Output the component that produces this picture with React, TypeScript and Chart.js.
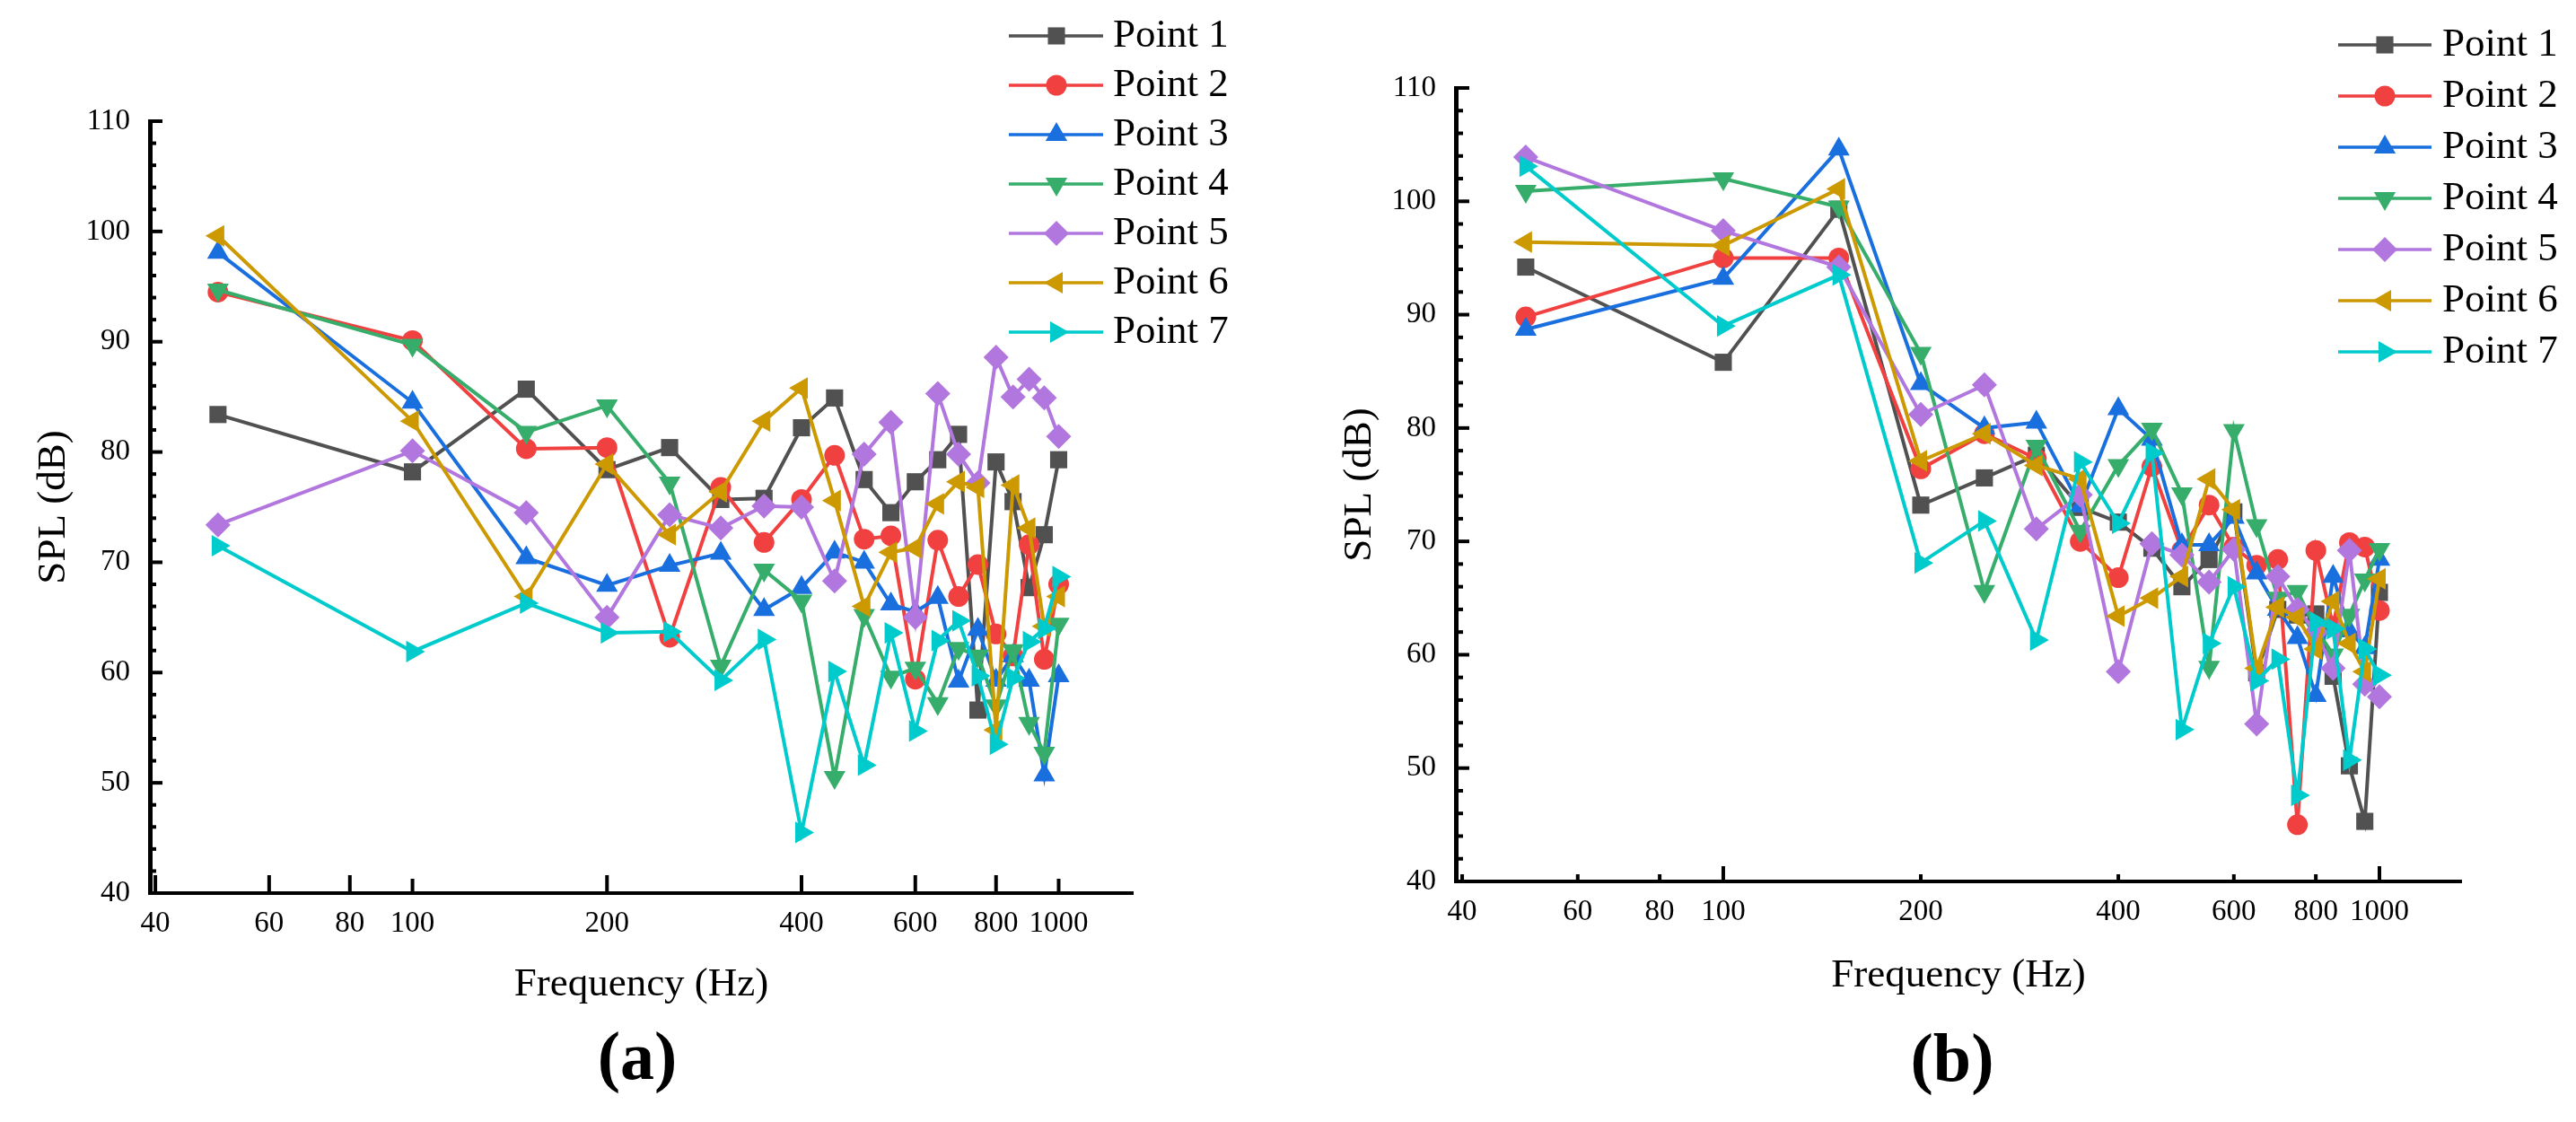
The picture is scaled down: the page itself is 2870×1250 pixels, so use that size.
import React, { useEffect, useRef } from 'react';
import { Chart, registerables } from 'chart.js';
import { drawPoint } from 'chart.js/helpers';

Chart.register(...registerables);

// ---------------- data ----------------
const frequencies = [50, 100, 150, 200, 250, 300, 350, 400, 450, 500, 550, 600, 650, 700, 750, 800, 850, 900, 950, 1000];

const seriesNames = ['Point 1', 'Point 2', 'Point 3', 'Point 4', 'Point 5', 'Point 6', 'Point 7'];
const seriesColors = ['#515151', '#F14040', '#1A6FDF', '#37AD6B', '#B177DE', '#CC9900', '#00CBCC'];
const seriesPointStyles = ['rect', 'circle', 'triangle', 'triangle', 'rectRot', 'triangle', 'triangle'];
const seriesPointRotations = [0, 0, 0, 180, 0, -90, 90];
const seriesPointRadii = [13.5, 11.5, 14, 14, 14, 14, 14];

// Panel (a)
const panelA_point1 = [83.4, 78.2, 85.7, 78.4, 80.4, 75.7, 75.8, 82.2, 84.9, 77.5, 74.5, 77.3, 79.3, 81.6, 56.6, 79.1, 75.5, 67.7, 72.5, 79.3];
const panelA_point2 = [94.5, 90.1, 80.3, 80.4, 63.2, 76.8, 71.8, 75.7, 79.7, 72.1, 72.4, 59.4, 72.0, 66.9, 69.8, 63.5, 61.5, 71.6, 61.2, 68.0];
const panelA_point3 = [98.1, 84.5, 70.4, 67.9, 69.7, 70.8, 65.7, 67.7, 70.9, 70.0, 66.2, 65.5, 66.8, 59.2, 63.9, 59.3, 61.5, 59.3, 50.7, 59.7];
const panelA_point4 = [94.7, 89.7, 81.8, 84.2, 77.2, 60.6, 69.3, 66.5, 50.5, 65.2, 59.6, 60.4, 57.2, 62.2, 61.5, 57.0, 62.0, 55.4, 52.7, 64.4];
const panelA_point5 = [73.4, 80.1, 74.5, 65.0, 74.3, 73.1, 75.1, 75.0, 68.3, 79.8, 82.7, 65.0, 85.3, 79.8, 77.2, 88.6, 85.0, 86.6, 84.9, 81.4];
const panelA_point6 = [99.6, 82.8, 66.9, 78.9, 72.5, 76.4, 82.8, 85.8, 75.6, 66.0, 70.9, 71.3, 75.3, 77.3, 76.8, 54.8, 77.0, 73.1, 64.2, 66.9];
const panelA_point7 = [71.5, 61.9, 66.3, 63.6, 63.7, 59.3, 63.0, 45.5, 60.1, 51.6, 63.6, 54.7, 62.9, 64.7, 59.7, 53.5, 59.5, 62.8, 64.0, 68.7];

// Panel (b)
const panelB_point1 = [94.2, 85.8, 99.3, 73.2, 75.6, 77.6, 73.0, 71.7, 69.4, 66.0, 68.4, 72.6, 58.4, 64.0, 63.5, 63.6, 58.1, 50.2, 45.3, 65.5];
const panelB_point2 = [89.8, 95.0, 95.0, 76.4, 79.5, 77.3, 70.0, 66.8, 76.6, 69.2, 73.2, 69.5, 67.9, 68.4, 45.0, 69.2, 62.5, 69.9, 69.5, 63.9];
const panelB_point3 = [88.7, 93.2, 104.6, 83.9, 80.0, 80.5, 73.1, 81.7, 79.0, 69.7, 69.7, 72.1, 67.2, 64.0, 61.5, 56.4, 66.9, 62.1, 60.6, 68.4];
const panelB_point4 = [100.9, 102.0, 99.5, 86.6, 65.6, 78.4, 70.9, 76.7, 79.9, 74.2, 58.9, 79.8, 71.4, 65.0, 65.6, 62.3, 60.0, 63.5, 66.6, 69.3];
const panelB_point5 = [103.9, 97.4, 94.2, 81.2, 83.8, 71.1, 74.1, 58.5, 69.8, 68.8, 66.4, 69.3, 53.9, 66.9, 64.0, 62.0, 58.8, 69.2, 57.4, 56.3];
const panelB_point6 = [96.4, 96.1, 101.1, 77.1, 79.5, 76.7, 75.5, 63.4, 65.0, 66.9, 75.5, 72.8, 58.8, 64.2, 63.3, 60.5, 64.7, 61.0, 58.5, 66.7];
const panelB_point7 = [103.1, 89.0, 93.5, 68.1, 71.8, 61.3, 77.0, 71.6, 77.8, 53.4, 61.0, 66.0, 57.7, 59.6, 47.6, 62.9, 62.3, 50.7, 60.5, 58.2];

const panelA_series = [panelA_point1, panelA_point2, panelA_point3, panelA_point4, panelA_point5, panelA_point6, panelA_point7];
const panelB_series = [panelB_point1, panelB_point2, panelB_point3, panelB_point4, panelB_point5, panelB_point6, panelB_point7];

const xTickValues = [40, 60, 80, 100, 200, 400, 600, 800, 1000];
const xMajorTickValues = [100, 1000];
const yMin = 40;
const yMax = 110;
const yMajorStep = 10;
const yMinorStep = 2;

const xAxisTitle = 'Frequency (Hz)';
const yAxisTitle = 'SPL (dB)';

const FONT = '"Liberation Serif", "Times New Roman", "DejaVu Serif", serif';

// ---------------- layout configs ----------------
type PanelCfg = {
  id: string;
  label: string;
  series: number[][];
  left: number;
  width: number;
  height: number;
  padding: { left: number; top: number; right: number; bottom: number };
  yWidth: number;
  xHeight: number;
  xMin: number;
  xMax: number;
  xMajorLen: number;
  xMinorLen: number;
  yMajorLen: number;
  yMinorLen: number;
  legendX0: number;
  legendX1: number;
  legendMarkerX: number;
  legendTextX: number;
  legendY0: number;
  legendDy: number;
  labelX: number;
  labelY: number;
};

const panelA: PanelCfg = {
  id: 'a',
  label: '(a)',
  series: panelA_series,
  left: 0,
  width: 1435,
  height: 1250,
  padding: { left: 33, top: 135, right: 173, bottom: 126 },
  yWidth: 134,
  xHeight: 129,
  xMin: 39.23,
  xMax: 1302,
  xMajorLen: 16,
  xMinorLen: 20,
  yMajorLen: 14,
  yMinorLen: 7,
  legendX0: 1124,
  legendX1: 1229,
  legendMarkerX: 1177,
  legendTextX: 1240,
  legendY0: 40,
  legendDy: 55,
  labelX: 710,
  labelY: 1182,
};

const panelB: PanelCfg = {
  id: 'b',
  label: '(b)',
  series: panelB_series,
  left: 1435,
  width: 1435,
  height: 1250,
  padding: { left: 53, top: 98, right: 128, bottom: 136 },
  yWidth: 134,
  xHeight: 132,
  xMin: 39.12,
  xMax: 1332,
  xMajorLen: 17,
  xMinorLen: 8,
  yMajorLen: 15,
  yMinorLen: 8,
  legendX0: 1170,
  legendX1: 1274,
  legendMarkerX: 1222,
  legendTextX: 1286,
  legendY0: 50,
  legendDy: 57,
  labelX: 740,
  labelY: 1184,
};

function makeDecorPlugin(cfg: PanelCfg) {
  return {
    id: 'decor_' + cfg.id,
    afterDraw(chart: any) {
      const { ctx, chartArea: ca, scales } = chart;
      const xs = scales.x;
      const ys = scales.y;
      ctx.save();
      ctx.strokeStyle = '#000';
      ctx.lineCap = 'butt';
      // inward x ticks
      ctx.lineWidth = 4;
      for (const v of xTickValues) {
        const px = xs.getPixelForValue(v);
        const len = xMajorTickValues.includes(v) ? cfg.xMajorLen : cfg.xMinorLen;
        ctx.beginPath();
        ctx.moveTo(px, ca.bottom);
        ctx.lineTo(px, ca.bottom - len);
        ctx.stroke();
      }
      // inward y ticks
      for (let v = yMin; v <= yMax + 1e-9; v += yMinorStep) {
        const py = ys.getPixelForValue(v);
        const isMajor = Math.abs(((v - yMin) / yMajorStep) - Math.round((v - yMin) / yMajorStep)) < 1e-6;
        const len = isMajor ? cfg.yMajorLen : cfg.yMinorLen;
        ctx.lineWidth = 4;
        ctx.beginPath();
        ctx.moveTo(ca.left, py);
        ctx.lineTo(ca.left + len, py);
        ctx.stroke();
      }
      // legend
      chart.data.datasets.forEach((ds: any, i: number) => {
        const y = cfg.legendY0 + i * cfg.legendDy;
        ctx.strokeStyle = ds.borderColor;
        ctx.lineWidth = 3.5;
        ctx.beginPath();
        ctx.moveTo(cfg.legendX0, y);
        ctx.lineTo(cfg.legendX1, y);
        ctx.stroke();
        ctx.fillStyle = ds.pointBackgroundColor;
        ctx.strokeStyle = ds.pointBackgroundColor;
        drawPoint(ctx, {
          pointStyle: ds.pointStyle,
          rotation: ds.pointRotation,
          radius: ds.pointRadius,
          borderWidth: 0,
        } as any, cfg.legendMarkerX, y);
        ctx.fillStyle = '#000';
        ctx.font = '45px ' + FONT;
        ctx.textAlign = 'left';
        ctx.textBaseline = 'middle';
        ctx.fillText(ds.label, cfg.legendTextX, y);
      });
      // panel label
      ctx.fillStyle = '#000';
      ctx.font = 'bold 76px ' + FONT;
      ctx.textAlign = 'center';
      ctx.textBaseline = 'middle';
      ctx.fillText(cfg.label, cfg.labelX, cfg.labelY);
      ctx.restore();
    },
  };
}

function buildConfig(cfg: PanelCfg): any {
  const datasets = seriesNames.map((name, i) => ({
    label: name,
    data: frequencies.map((f, k) => ({ x: f, y: cfg.series[i][k] })),
    borderColor: seriesColors[i],
    backgroundColor: seriesColors[i],
    pointBackgroundColor: seriesColors[i],
    pointBorderColor: seriesColors[i],
    pointBorderWidth: 0,
    pointStyle: seriesPointStyles[i],
    pointRotation: seriesPointRotations[i],
    pointRadius: seriesPointRadii[i],
    pointHoverRadius: seriesPointRadii[i],
    borderWidth: 4,
    tension: 0,
    fill: false,
    clip: false,
    order: seriesNames.length - i,
  }));

  return {
    type: 'line',
    data: { datasets },
    options: {
      animation: false,
      responsive: false,
      maintainAspectRatio: false,
      events: [],
      layout: { padding: cfg.padding },
      plugins: {
        legend: { display: false },
        tooltip: { enabled: false },
        title: { display: false },
      },
      scales: {
        x: {
          type: 'logarithmic',
          position: 'bottom',
          min: cfg.xMin,
          max: cfg.xMax,
          afterBuildTicks: (scale: any) => {
            scale.ticks = xTickValues.map((v) => ({ value: v }));
          },
          afterFit: (scale: any) => {
            scale.height = cfg.xHeight;
          },
          ticks: {
            autoSkip: false,
            maxRotation: 0,
            minRotation: 0,
            padding: 15,
            color: '#000',
            font: { family: FONT, size: 33, lineHeight: 1.2 },
            callback: (v: any) => String(v),
          },
          grid: { display: true, drawOnChartArea: false, drawTicks: false },
          border: { display: true, color: '#000', width: 4 },
          title: {
            display: true,
            text: xAxisTitle,
            color: '#000',
            padding: 0,
            font: { family: FONT, size: 45, lineHeight: 1.2 },
          },
        },
        y: {
          type: 'linear',
          position: 'left',
          min: yMin,
          max: yMax,
          afterFit: (scale: any) => {
            scale.width = cfg.yWidth;
          },
          ticks: {
            stepSize: yMajorStep,
            padding: 22,
            color: '#000',
            font: { family: FONT, size: 33, lineHeight: 1.2 },
          },
          grid: { display: true, drawOnChartArea: false, drawTicks: false },
          border: { display: true, color: '#000', width: 5 },
          title: {
            display: true,
            text: yAxisTitle,
            color: '#000',
            padding: 0,
            font: { family: FONT, size: 45, lineHeight: 1.2 },
          },
        },
      },
    },
    plugins: [makeDecorPlugin(cfg)],
  };
}

function Panel({ cfg }: { cfg: PanelCfg }) {
  const ref = useRef<HTMLCanvasElement | null>(null);
  useEffect(() => {
    if (!ref.current) return;
    const chart = new Chart(ref.current, buildConfig(cfg));
    let alive = true;
    const fonts: any = (document as any).fonts;
    if (fonts && fonts.load) {
      Promise.all([
        fonts.load('33px "Liberation Serif"'),
        fonts.load('bold 76px "Liberation Serif"'),
      ])
        .then(() => {
          if (alive) chart.update();
        })
        .catch(() => {});
    }
    return () => {
      alive = false;
      chart.destroy();
    };
  }, [cfg]);
  return (
    <canvas
      ref={ref}
      width={cfg.width}
      height={cfg.height}
      style={{ position: 'absolute', left: cfg.left, top: 0, width: cfg.width, height: cfg.height }}
    />
  );
}

export default function App() {
  return (
    <div
      style={{
        position: 'absolute',
        left: 0,
        top: 0,
        width: 2870,
        height: 1250,
        background: '#fff',
        overflow: 'hidden',
      }}
    >
      <Panel cfg={panelA} />
      <Panel cfg={panelB} />
    </div>
  );
}
